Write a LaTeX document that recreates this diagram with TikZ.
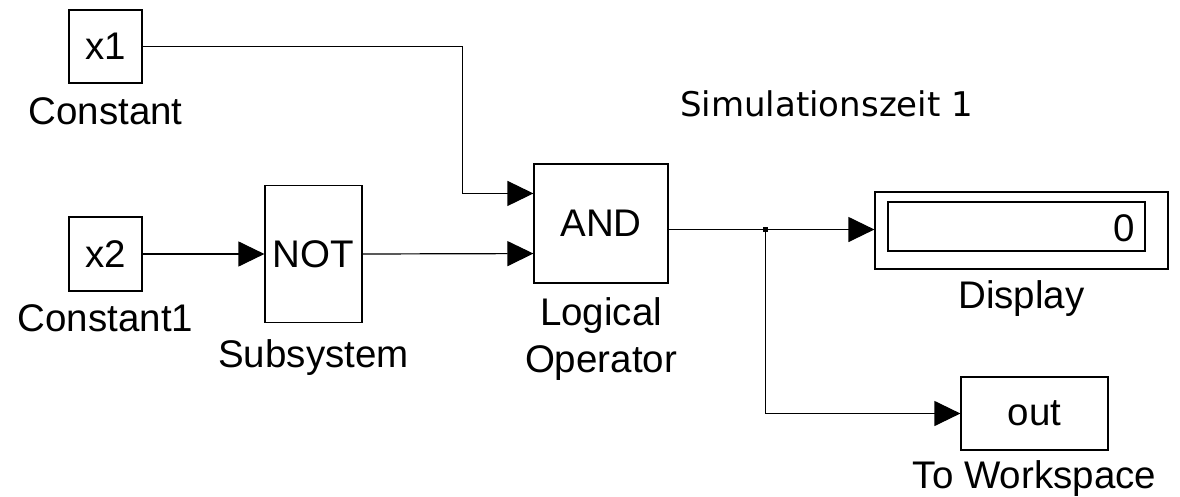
\documentclass[tikz,border=0pt]{standalone}
\usepackage{fontspec}
\setmainfont{Liberation Sans}
\newfontfamily\timefont{DejaVu Sans}
\usetikzlibrary{arrows.meta,positioning,calc}
\tikzset{
  blk/.style={draw,line width=1.2pt,inner sep=0pt,font=\fontsize{38.5}{46}\selectfont},
  lbl/.style={inner sep=0pt,align=center,font=\fontsize{38.5}{47}\selectfont},
  sig/.style={line width=1.2pt,-{Triangle[length=26pt,width=25pt]}}
}

\begin{document}
\begin{tikzpicture}[x=1pt,y=-1pt]
\useasboundingbox (0,0) rectangle (1180,497);

% sources
\node[blk,minimum width=73pt,minimum height=73pt] (cst1) at (105.5,46.5) {x1};
\node[lbl,below=14pt of cst1] (cst1lbl) {Constant};
\node[blk,minimum width=73pt,minimum height=74pt] (cst2) at (105.5,254) {x2};
\node[lbl,below=13pt of cst2] (cst2lbl) {Constant1};

% logic
\node[blk,minimum width=97pt,minimum height=137pt] (notb) at (313.5,254) {NOT};
\node[lbl,below=16pt of notb] (notlbl) {Subsystem};
\node[blk,minimum width=134pt,minimum height=119pt] (andb) at (601,223.5) {AND};
\node[lbl,below=14pt of andb] (andlbl) {Logical\\Operator};
\coordinate (and-in1) at ($(andb.north west)!0.25!(andb.south west)$);
\coordinate (and-in2) at ($(andb.north west)!0.75!(andb.south west)$);
\coordinate (and-out) at ($(andb.north east)!0.55!(andb.south east)$);

% sinks
\node[blk,minimum width=293pt,minimum height=77pt] (disp) at (1021.5,230.5) {};
\node[blk,minimum width=257pt,minimum height=49pt] (dispin) at (1016.5,226.5) {};
\node[blk,draw=none,anchor=east] (dispval) at ($(dispin.east)+(-10,1.5)$) {0};
\node[lbl,below=11pt of disp] (displbl) {Display};
\node[blk,minimum width=147pt,minimum height=73pt] (wsp) at (1034.5,413.5) {out};
\node[lbl,below=10pt of wsp] (wsplbl) {To Workspace};

\node[inner sep=0pt,anchor=base west,font=\timefont\fontsize{34}{40}\selectfont] (simtime) at (680,117) {Simulationszeit 1};

% signals
\draw[sig] (cst1.east) -- ++(320,0) |- (and-in1);
\draw[sig] (cst2.east) -- (notb.west);
\draw[sig] (notb.east) -- (and-in2);
\coordinate (tap) at ($(and-out)+(97,0)$);
\draw[sig] (and-out) -- (and-out -| disp.west);
\draw[sig] (tap) |- (wsp.west);
\fill (tap) ++(-2.5,-2.5) rectangle ++(5,5);
\end{tikzpicture}
\end{document}
